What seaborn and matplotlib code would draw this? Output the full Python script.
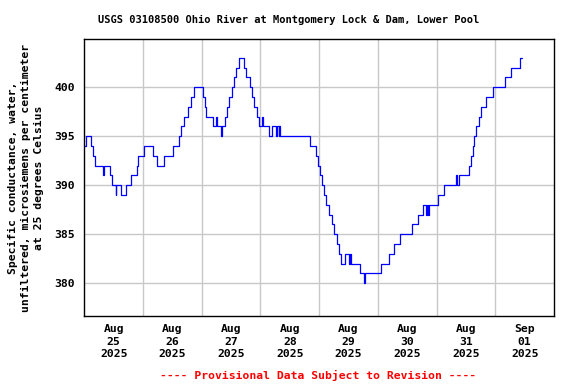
import matplotlib
matplotlib.use("Agg")
import matplotlib.pyplot as plt
import seaborn as sns
import pandas as pd
from matplotlib.ticker import FixedLocator, NullFormatter

# Hours since Aug 25 2025 00:00 at which the value changes (step series)
hours = [0.0, 0.7, 2.6, 3.4, 4.4, 7.8, 8.2, 10.6, 11.5, 12.8, 13.1, 15.1, 17.2, 18.9,
         21.7, 22.1, 24.2, 28.0, 29.7, 32.5, 36.4, 38.6, 39.7, 40.9, 42.2, 43.6, 45.0,
         48.7, 49.2, 49.8, 52.5, 53.9, 54.4, 55.7, 56.4, 57.7, 58.3, 59.2, 60.4, 61.0,
         62.0, 63.2, 65.1, 66.0, 67.8, 68.7, 69.5, 70.4, 71.5, 72.5, 73.0, 75.3, 76.7,
         78.4, 78.9, 79.4, 79.7, 79.9, 92.1, 94.8, 95.6, 96.4, 97.1, 97.8, 98.6, 99.9,
         101.2, 101.9, 103.3, 104.1, 104.8, 106.4, 108.2, 108.5, 109.0, 112.5, 114.5,
         114.9, 121.1, 124.4, 126.8, 128.9, 133.8, 136.6, 138.4, 139.5, 140.0, 140.5,
         140.9, 144.4, 146.9, 151.9, 152.4, 153.0, 157.1, 158.1, 158.9, 159.4, 160.2,
         161.3, 162.1, 164.2, 167.0, 171.8, 174.6, 177.9, 178.9]
values = [394, 395, 394, 393, 392, 391, 392, 391, 390, 389, 390, 389, 390, 391,
          392, 393, 394, 393, 392, 393, 394, 395, 396, 397, 398, 399, 400,
          399, 398, 397, 396, 397, 396, 395, 396, 397, 398, 399, 400, 401,
          402, 403, 402, 401, 400, 399, 398, 397, 396, 397, 396, 395, 396,
          395, 396, 395, 396, 395, 394, 393, 392, 391, 390, 389, 388, 387,
          386, 385, 384, 383, 382, 383, 382, 383, 382, 381, 380,
          381, 382, 383, 384, 385, 386, 387, 388, 387, 388, 387,
          388, 389, 390, 391, 390, 391, 392, 393, 394, 395, 396,
          397, 398, 399, 400, 401, 402, 403, 403]

day_labels = ["Aug\n25\n2025", "Aug\n26\n2025", "Aug\n27\n2025", "Aug\n28\n2025",
              "Aug\n29\n2025", "Aug\n30\n2025", "Aug\n31\n2025", "Sep\n01\n2025"]
y_ticks = [380, 385, 390, 395, 400]

title = "USGS 03108500 Ohio River at Montgomery Lock & Dam, Lower Pool"
ylabel = "Specific conductance, water,\nunfiltered, microsiemens per centimeter\nat 25 degrees Celsius"
footer = "---- Provisional Data Subject to Revision ----"

sns.set_style("white")
plt.rcParams['font.family'] = ['DejaVu Sans Mono']
plt.rcParams['font.weight'] = 'bold'
plt.rcParams['text.color'] = 'black'
plt.rcParams['axes.labelcolor'] = 'black'
plt.rcParams['xtick.color'] = 'black'
plt.rcParams['ytick.color'] = 'black'

df = pd.DataFrame({"hours": hours, "value": values})

fig = plt.figure(figsize=(5.76, 3.84), dpi=100)
ax = fig.add_axes([84.3 / 576, 1 - 316 / 384, (554 - 84.3) / 576, (316 - 39.3) / 384])

sns.lineplot(data=df, x="hours", y="value", ax=ax, color="#0000ff", linewidth=0.9,
             drawstyle="steps-post", estimator=None)

ax.set_xlim(0, 192)
ax.set_ylim(376.65, 404.9)

# labels at noon, grid at midnight
ax.xaxis.set_major_locator(FixedLocator([12 + 24 * i for i in range(8)]))
ax.set_xticklabels(day_labels, fontsize=8.2, fontweight='bold', linespacing=1.3,
                   color='black')
ax.xaxis.set_minor_locator(FixedLocator([24 * i for i in range(1, 8)]))
ax.xaxis.set_minor_formatter(NullFormatter())
ax.set_yticks(y_ticks)
ax.set_yticklabels([str(v) for v in y_ticks], fontsize=8.2, fontweight='bold',
                   color='black')
ax.tick_params(axis='x', which='both', length=0, pad=6)
ax.tick_params(axis='y', which='both', length=0, pad=7)
ax.grid(False)
ax.grid(True, which='minor', axis='x', color='#c8c8c8', linewidth=1)
ax.grid(True, which='major', axis='y', color='#c8c8c8', linewidth=1)
ax.set_axisbelow(True)

for s in ax.spines.values():
    s.set_color('black')
    s.set_linewidth(1)
    s.set_visible(True)

ax.set_xlabel("")
ax.set_ylabel("")
fig.text(26 / 576, 1 - 178 / 384, ylabel, rotation=90, ha='center', va='center',
         multialignment='center', fontsize=8.2, fontweight='bold', linespacing=1.35,
         color='black')

fig.text(289 / 576, 1 - 20 / 384, title, ha='center', va='center', fontsize=7.5,
         fontweight='bold', color='black')
fig.text(318 / 576, 1 - 375 / 384, footer, ha='center', va='center', fontsize=8.2,
         fontweight='bold', color='red')

fig.savefig("out.png", dpi=100)
